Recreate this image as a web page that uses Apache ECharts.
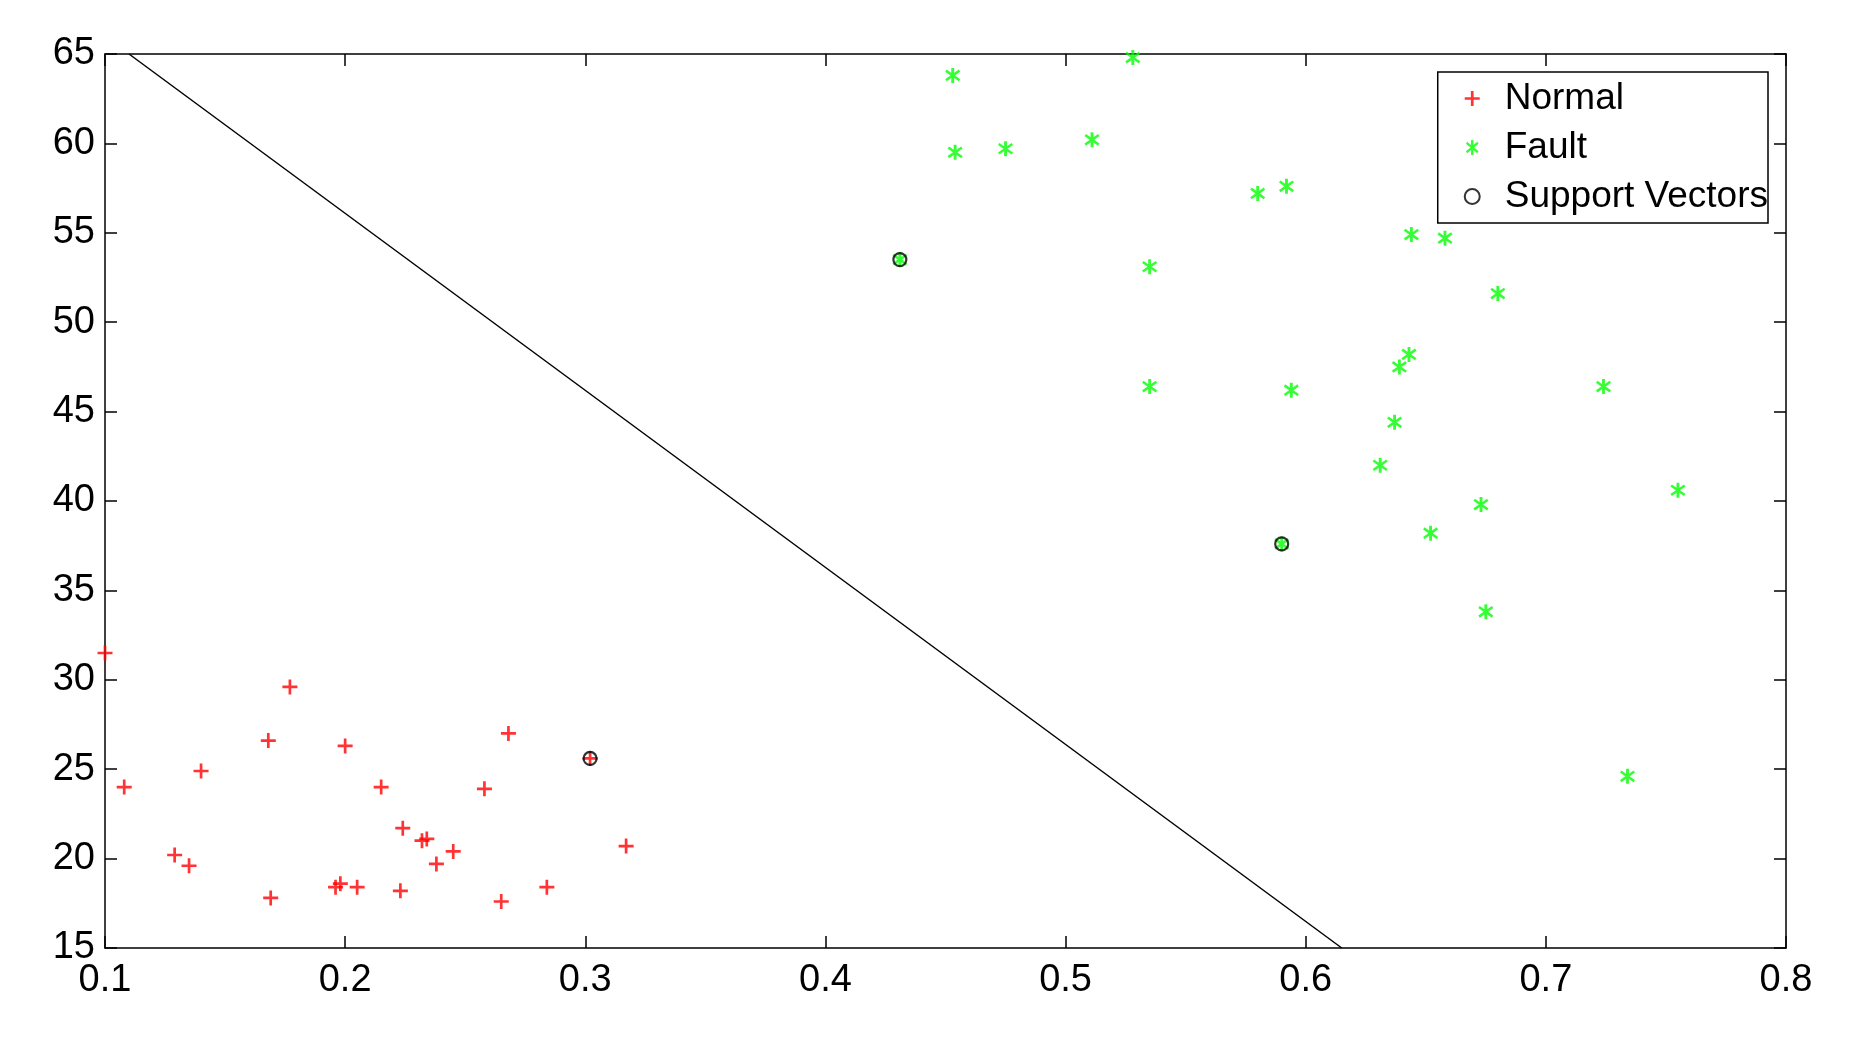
<!DOCTYPE html>
<html>
<head>
<meta charset="utf-8">
<script src="https://cdn.jsdelivr.net/npm/echarts@6/dist/echarts.min.js"></script>
<style>html,body{margin:0;padding:0;background:#fff}#chart{width:1859px;height:1056px}</style>
</head>
<body>
<div id="chart"></div>
<script>
// data
const normalPts = [
  [0.100, 31.5], [0.108, 24.0], [0.129, 20.2], [0.135, 19.6], [0.140, 24.9],
  [0.168, 26.6], [0.169, 17.8], [0.177, 29.6], [0.196, 18.4], [0.198, 18.6],
  [0.200, 26.3], [0.205, 18.4], [0.215, 24.0], [0.223, 18.2], [0.224, 21.7],
  [0.232, 21.0], [0.234, 21.1], [0.238, 19.7], [0.245, 20.4], [0.258, 23.9],
  [0.265, 17.6], [0.268, 27.0], [0.284, 18.4], [0.302, 25.6], [0.317, 20.7]
];
const faultPts = [
  [0.453, 63.8], [0.528, 64.8], [0.454, 59.5], [0.475, 59.7], [0.511, 60.2],
  [0.580, 57.2], [0.592, 57.6], [0.431, 53.5], [0.535, 53.1], [0.644, 54.9],
  [0.658, 54.7], [0.680, 51.6], [0.643, 48.2], [0.639, 47.5], [0.535, 46.4],
  [0.594, 46.2], [0.724, 46.4], [0.637, 44.4], [0.631, 42.0], [0.673, 39.8],
  [0.755, 40.6], [0.652, 38.2], [0.590, 37.6], [0.675, 33.8], [0.734, 24.6]
];
const supportPts = [[0.431, 53.5], [0.590, 37.6], [0.302, 25.6]];
const boundary = [[0.11, 65], [0.615, 15]];

const plusPath = 'path://M4.1,0H5.9V4.1H10V5.9H5.9V10H4.1V5.9H0V4.1H4.1Z';
const starPath = 'path://M4.2,0H5.8V10H4.2Z M0.8,2.5L1.6,1.1L9.2,7.5L8.4,8.9Z M0.8,7.5L8.4,1.1L9.2,2.5L1.6,8.9Z';

const axisFont = { fontFamily: 'Arial, "Liberation Sans", sans-serif', fontSize: 38, color: '#000' };

const xBase = {
  type: 'value', min: 0.1, max: 0.8, interval: 0.1,
  axisLine: { lineStyle: { color: '#000', width: 1.5 } },
  axisTick: { inside: true, length: 12, lineStyle: { color: '#000', width: 1.5 } },
  splitLine: { show: false }
};
const yBase = {
  type: 'value', min: 15, max: 65, interval: 5,
  axisLine: { lineStyle: { color: '#000', width: 1.5 } },
  axisTick: { inside: true, length: 12, lineStyle: { color: '#000', width: 1.5 } },
  splitLine: { show: false }
};

const chart = echarts.init(document.getElementById('chart'));
chart.setOption({
  backgroundColor: '#fff',
  animation: false,
  grid: { left: 105, right: 73, top: 54, bottom: 108 },
  xAxis: [
    Object.assign({}, xBase, { position: 'bottom', axisLabel: Object.assign({ margin: 14, formatter: v => String(+v.toFixed(1)) }, axisFont) }),
    Object.assign({}, xBase, { position: 'top', axisLabel: { show: false } })
  ],
  yAxis: [
    Object.assign({}, yBase, { position: 'left', axisLabel: Object.assign({ margin: 10 }, axisFont) }),
    Object.assign({}, yBase, { position: 'right', axisLabel: { show: false } })
  ],
  legend: {
    right: 91, top: 72,
    orient: 'vertical',
    backgroundColor: '#fff',
    borderColor: '#000', borderWidth: 1.5,
    padding: [8, 0, 8, 26],
    itemGap: 12, itemWidth: 15, itemHeight: 15,
    textStyle: { fontFamily: 'Arial, "Liberation Sans", sans-serif', fontSize: 37, color: '#000', padding: [0, 0, 0, 20] },
    data: ['Normal', 'Fault', 'Support Vectors']
  },
  series: [
    {
      name: 'boundary', type: 'line', data: boundary, symbol: 'none',
      lineStyle: { color: '#000', width: 1.5 }, silent: true, z: 1
    },
    {
      name: 'Normal', type: 'scatter', data: normalPts,
      symbol: plusPath, symbolSize: 15, itemStyle: { color: '#ff0000' }, z: 3
    },
    {
      name: 'Fault', type: 'scatter', data: faultPts,
      symbol: starPath, symbolSize: 15, itemStyle: { color: '#00ff00' }, z: 3
    },
    {
      name: 'Support Vectors', type: 'scatter', data: supportPts,
      symbol: 'circle', symbolSize: 13,
      itemStyle: { color: 'transparent', borderColor: '#000', borderWidth: 2.2 }, z: 4
    }
  ]
});
</script>
</body>
</html>
